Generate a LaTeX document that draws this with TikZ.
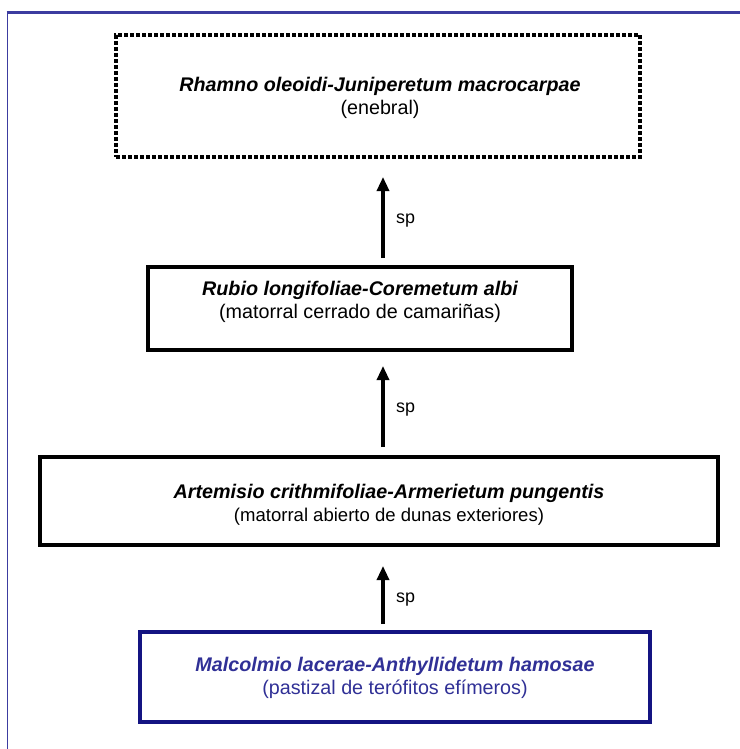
\documentclass[tikz,border=0pt]{standalone}
\usepackage{fontspec}
\setmainfont{Liberation Sans}
\usetikzlibrary{arrows.meta}
\definecolor{frameblue}{RGB}{60,60,160}
\definecolor{navybox}{RGB}{20,20,130}
\definecolor{txtblue}{RGB}{48,48,150}
\begin{document}
\begin{tikzpicture}[x=1bp,y=-1bp,
  solidbox/.style={draw=black,line width=3.2bp,inner sep=0pt},
  dottedbox/.style={draw=black,line width=3.6bp,dash pattern=on 3.6bp off 2.4bp,inner sep=0pt},
  bluebox/.style={draw=navybox,line width=3.4bp,inner sep=0pt},
  boxtext/.style={align=center,inner sep=0pt,font=\fontsize{19.8}{23}\selectfont},
  succarrow/.style={line width=3.2bp,-{Triangle[width=12bp,length=14bp]}},
  arrlabel/.style={anchor=west,inner sep=0pt,font=\fontsize{18}{21}\selectfont}]
\useasboundingbox (0,0) rectangle (740,749);
% frame
\draw[frameblue,line width=1.6bp] (7.5,749) -- (7.5,12.5);
\draw[frameblue,line width=2.4bp] (6.7,12.5) -- (740,12.5);
% boxes
\node[dottedbox,minimum width=524bp,minimum height=122bp] (b1) at (378,96) {};
\node[solidbox,minimum width=424bp,minimum height=83bp] (b2) at (360,308.5) {};
\node[solidbox,minimum width=678bp,minimum height=88bp] (b3) at (379,501) {};
\node[bluebox,minimum width=510bp,minimum height=90bp] (b4) at (395,677) {};
% texts
\node[boxtext] (t1) at (380,98) {{\bfseries\itshape Rhamno oleoidi-Juniperetum macrocarpae}\\(enebral)};
\node[boxtext] (t2) at (360,302) {{\bfseries\itshape Rubio longifoliae-Coremetum albi}\\(matorral cerrado de camariñas)};
\node[boxtext] (t3) at (389,505) {{\bfseries\itshape Artemisio crithmifoliae-Armerietum pungentis}\\{\fontsize{18.6}{23}\selectfont(matorral abierto de dunas exteriores)}};
\node[boxtext,text=txtblue] (t4) at (395,678) {{\bfseries\itshape Malcolmio lacerae-Anthyllidetum hamosae}\\(pastizal de terófitos efímeros)};
% arrow ends
\coordinate (a1s) at (383,258);
\coordinate (a1e) at (383,177);
\coordinate (a2s) at (383,447);
\coordinate (a2e) at (383,366);
\coordinate (a3s) at (383,624);
\coordinate (a3e) at (383,566);
\draw[succarrow] (a1s) -- (a1e);
\draw[succarrow] (a2s) -- (a2e);
\draw[succarrow] (a3s) -- (a3e);
\node[arrlabel] (s1) at (396,221) {sp};
\node[arrlabel] (s2) at (396,410) {sp};
\node[arrlabel] (s3) at (396,600) {sp};
\end{tikzpicture}
\end{document}
